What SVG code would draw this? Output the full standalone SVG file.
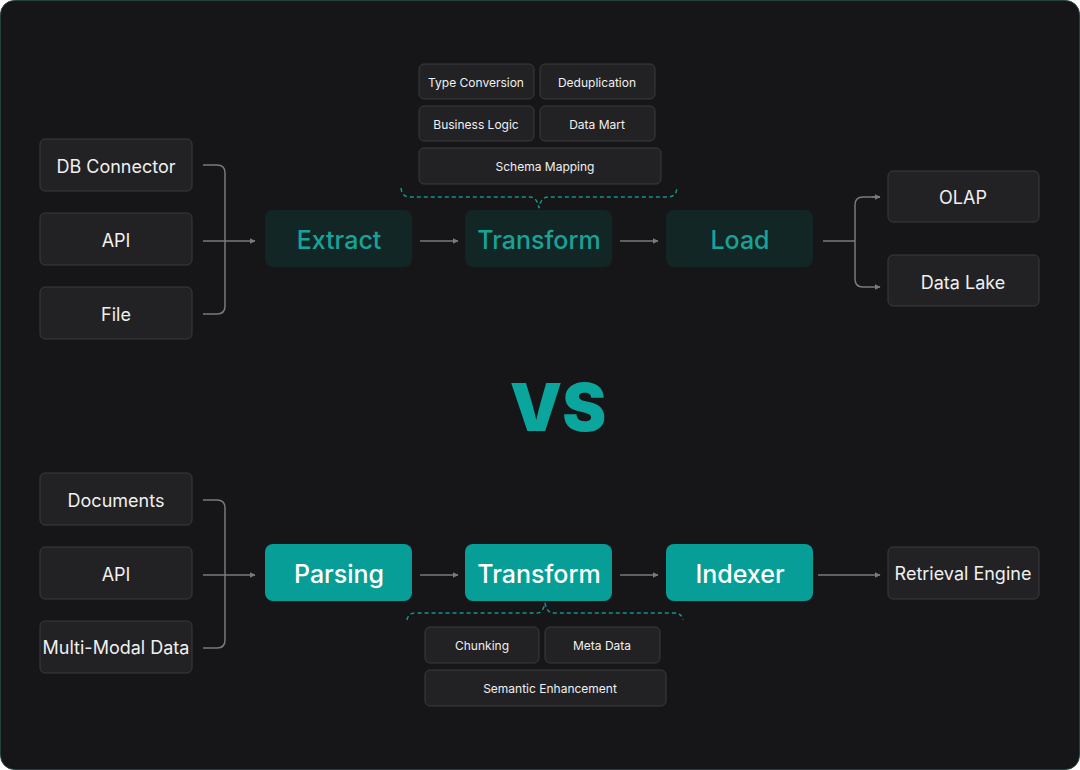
<svg xmlns="http://www.w3.org/2000/svg" width="1080" height="770" viewBox="0 0 1080 770">
<style>
.bx{fill:#222224;stroke:#3a3a3d;stroke-width:1}
.t{font-family:Inter,"Liberation Sans",sans-serif;fill:#f0f0f0;text-anchor:middle;dominant-baseline:central}
.m{font-size:18px}
.s{font-size:12px}
.ds{fill:#132626}
.dt{font-family:Inter,"Liberation Sans",sans-serif;fill:#17a398;font-size:25px;font-weight:500;text-anchor:middle;dominant-baseline:central}
.bs{fill:#069e96}
.bt{font-family:Inter,"Liberation Sans",sans-serif;fill:#fff;font-size:25px;font-weight:500;text-anchor:middle;dominant-baseline:central}
.ln{fill:none;stroke:#7a7a7a;stroke-width:1.5}
.br{fill:none;stroke:#11968f;stroke-width:1.5;stroke-dasharray:4 3}
</style>
<defs><marker id="a" viewBox="0 0 10 10" refX="9" refY="5" markerWidth="4" markerHeight="4" orient="auto"><path d="M0,0L10,5L0,10z" fill="#7a7a7a"/></marker></defs>
<rect x="0.5" y="0.5" width="1079" height="769" rx="14" fill="#161618" stroke="#23403c"/>
<g id="connectors">
<path class="ln" d="M203,165H217Q225,165 225,173V306Q225,314 217,314H203"/>
<path class="ln" d="M203,241H255" marker-end="url(#a)"/>
<path class="ln" d="M420,241H458" marker-end="url(#a)"/>
<path class="ln" d="M620,241H658" marker-end="url(#a)"/>
<path class="ln" d="M823,241H855"/>
<path class="ln" d="M880,197H863Q855,197 855,205V279Q855,287 863,287H880" marker-end="url(#a)"/>
<path class="ln" d="M872,197H880" marker-end="url(#a)"/>
<path class="ln" d="M203,500H217Q225,500 225,508V640Q225,648 217,648H203"/>
<path class="ln" d="M203,575H255" marker-end="url(#a)"/>
<path class="ln" d="M420,575H458" marker-end="url(#a)"/>
<path class="ln" d="M620,575H658" marker-end="url(#a)"/>
<path class="ln" d="M818,575H880" marker-end="url(#a)"/>
<path class="br" d="M401,188Q402,197 410,197H530Q537,197 539,208Q541,197 548,197H668Q676,197 677,188"/>
<path class="br" d="M407,620Q408,613 416,613H537Q543,613 545,603Q547,613 553,613H674Q682,613 683,620"/>
</g>
<g id="db"><rect class="bx" x="40" y="139" width="152" height="52" rx="5"/><text class="t m" x="116" y="166">DB Connector</text></g>
<g id="api1"><rect class="bx" x="40" y="213" width="152" height="52" rx="5"/><text class="t m" x="116" y="240">API</text></g>
<g id="file"><rect class="bx" x="40" y="287" width="152" height="52" rx="5"/><text class="t m" x="116" y="314">File</text></g>
<g id="extract"><rect class="ds" x="265" y="210" width="147" height="57" rx="8"/><text class="dt" x="339" y="240">Extract</text></g>
<g id="transform1"><rect class="ds" x="465" y="210" width="147" height="57" rx="8"/><text class="dt" x="539" y="240">Transform</text></g>
<g id="load"><rect class="ds" x="666" y="210" width="147" height="57" rx="8"/><text class="dt" x="740" y="240">Load</text></g>
<g id="olap"><rect class="bx" x="888" y="171" width="151" height="51" rx="5"/><text class="t m" x="963" y="197">OLAP</text></g>
<g id="lake"><rect class="bx" x="888" y="255" width="151" height="51" rx="5"/><text class="t m" x="963" y="282">Data Lake</text></g>
<g id="typeconv"><rect class="bx" x="419" y="64" width="115" height="35" rx="5"/><text class="t s" x="476" y="82">Type Conversion</text></g>
<g id="dedup"><rect class="bx" x="540" y="64" width="115" height="35" rx="5"/><text class="t s" x="597" y="82">Deduplication</text></g>
<g id="biz"><rect class="bx" x="419" y="106" width="115" height="35" rx="5"/><text class="t s" x="476" y="124">Business Logic</text></g>
<g id="mart"><rect class="bx" x="540" y="106" width="115" height="35" rx="5"/><text class="t s" x="597" y="124">Data Mart</text></g>
<g id="schema"><rect class="bx" x="419" y="148" width="242" height="36" rx="5"/><text class="t s" x="545" y="166">Schema Mapping</text></g>
<text x="558" y="407" font-family="Inter,'Liberation Sans',sans-serif" font-size="66" font-weight="900" fill="#0aa59c" text-anchor="middle" dominant-baseline="central">VS</text>
<g id="docs"><rect class="bx" x="40" y="473" width="152" height="52" rx="5"/><text class="t m" x="116" y="500">Documents</text></g>
<g id="api2"><rect class="bx" x="40" y="547" width="152" height="52" rx="5"/><text class="t m" x="116" y="574">API</text></g>
<g id="mm"><rect class="bx" x="40" y="621" width="152" height="52" rx="5"/><text class="t m" x="116" y="647">Multi-Modal Data</text></g>
<g id="parsing"><rect class="bs" x="265" y="544" width="147" height="57" rx="8"/><text class="bt" x="339" y="574">Parsing</text></g>
<g id="transform2"><rect class="bs" x="465" y="544" width="147" height="57" rx="8"/><text class="bt" x="539" y="574">Transform</text></g>
<g id="indexer"><rect class="bs" x="666" y="544" width="147" height="57" rx="8"/><text class="bt" x="740" y="574">Indexer</text></g>
<g id="retrieval"><rect class="bx" x="888" y="547" width="151" height="52" rx="5"/><text class="t m" x="963" y="573">Retrieval Engine</text></g>
<g id="chunk"><rect class="bx" x="425" y="627" width="114" height="36" rx="5"/><text class="t s" x="482" y="645">Chunking</text></g>
<g id="meta"><rect class="bx" x="545" y="627" width="115" height="36" rx="5"/><text class="t s" x="602" y="645">Meta Data</text></g>
<g id="sem"><rect class="bx" x="425" y="670" width="241" height="36" rx="5"/><text class="t s" x="550" y="688">Semantic Enhancement</text></g>
</svg>
